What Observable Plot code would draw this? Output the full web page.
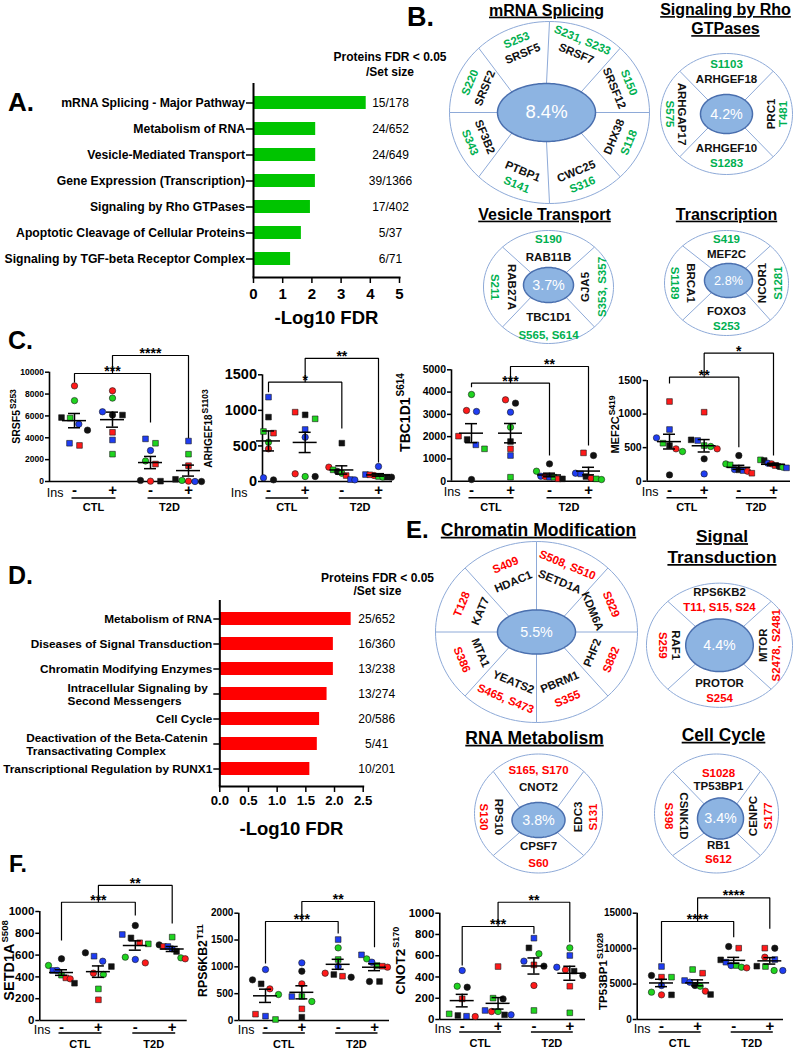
<!DOCTYPE html>
<html><head><meta charset="utf-8">
<script src="https://cdn.jsdelivr.net/npm/d3@7"></script>
<script src="https://cdn.jsdelivr.net/npm/@observablehq/plot@0.6"></script>
<style>
body{margin:0;background:#fff;}
#fig{position:relative;width:798px;height:1050px;overflow:hidden;background:#fff;font-family:"Liberation Sans",Arial,sans-serif;}
#fig > .p{position:absolute;}
.letter{position:absolute;font-weight:bold;line-height:1;white-space:nowrap;}
</style></head><body><div id="fig"></div>
<script>
// ---------------- DATA ----------------
const aPathways = ["mRNA Splicing - Major Pathway","Metabolism of RNA","Vesicle-Mediated Transport","Gene Expression (Transcription)","Signaling by Rho GTPases","Apoptotic Cleavage of Cellular Proteins","Signaling by TGF-beta Receptor Complex"];
const aLogFDR = [3.86, 2.13, 2.13, 2.12, 1.95, 1.64, 1.27];
const aCounts = ["15/178","24/652","24/649","39/1366","17/402","5/37","6/71"];

const dPathways = ["Metabolism of RNA","Diseases of Signal Transduction","Chromatin Modifying Enzymes","Intracellular Signaling by\nSecond Messengers","Cell Cycle","Deactivation of the Beta-Catenin\nTransactivating Complex","Transcriptional Regulation by RUNX1"];
const dLogFDR = [2.29, 1.98, 1.98, 1.87, 1.74, 1.70, 1.57];
const dCounts = ["25/652","16/360","13/238","13/274","20/586","5/41","10/201"];
const countHeader = "Proteins FDR < 0.05\n/Set size";
const xLabel = "-Log10 FDR";

const insTicks = ["-","+","-","+"];
const conditions = ["CTL","T2D"];
// subject keys: colour letter (R,G,B,K) + marker (c = circle, s = square)
const srsf5Keys = [["Rc","Gc","Gs","Bc","Kc","Ks","Rs","Bs"],["Rc","Gc","Kc","Ks","Bc","Rs","Bs","Gs"],["Gc","Gs","Bc","Bs","Rs","Rc","Kc","Ks"],["Bs","Gs","Rs","Rc","Bc","Ks","Gc","Kc"]];
const srsf5Vals = [[8750,7400,5800,5250,4700,5850,3300,3500],[8300,7630,6080,6080,6380,4500,3800,2500],[1880,3500,2830,3900,1600,30,100,30],[3700,2500,1450,30,0,200,100,0]];
const arhgef18Keys = [["Bs","Ks","Gs","Rs","Gc","Rc","Kc","Bc"],["Rs","Gs","Ks","Bs","Bc","Gc","Rc","Kc"],["Ks","Kc","Gs","Rs","Rc","Gc","Bc","Bs"],["Bc","Bs","Rs","Rc","Gs","Gc","Ks","Kc"]];
const arhgef18Vals = [[1186,905,703,680,553,459,23,52],[975,881,937,731,623,70,108,70],[539,141,164,84,202,117,23,28],[211,98,94,84,70,61,61,61]];
const tbc1d1Keys = [["Gc","Bc","Rc","Ks","Rs","Gs","Bs","Kc"],["Kc","Rc","Bc","Gc","Ks","Rs","Bs","Gs"],["Kc","Gc","Rs","Rc","Bs","Bc","Ks","Gs"],["Kc","Rs","Bs","Bc","Gs","Rc","Ks","Gc"]];
const tbc1d1Vals = [[3892,3129,3174,1871,2021,1452,1632,75],[3503,3653,3099,2425,1781,1452,1153,180],[778,449,105,210,180,225,105,180],[1153,1272,329,359,105,135,210,75]];
const mef2cKeys = [["Rs","Bs","Bc","Gs","Ks","Rc","Gc","Kc"],["Rs","Ks","Bs","Gs","Gc","Rc","Kc","Bc"],["Kc","Gc","Gs","Bc","Rc","Ks","Bs","Rs"],["Gs","Ks","Kc","Gc","Rc","Bc","Bs","Rs"]];
const mef2cVals = [[1187,770,646,566,531,482,442,94],[1028,616,606,531,517,482,333,109],[382,258,243,174,149,169,159,119],[318,308,219,209,258,268,199,233]];
const setd1aKeys = [["Kc","Gc","Bs","Bc","Rs","Rc","Gs","Ks"],["Kc","Bc","Bs","Ks","Gc","Rc","Gs","Rs"],["Kc","Bs","Ks","Rs","Gs","Gc","Rc","Bc"],["Gs","Kc","Rs","Bs","Ks","Gc","Rc","Bc"]];
const setd1aVals = [[566,505,459,459,391,382,416,342],[621,544,590,495,422,434,290,190],[871,789,758,713,703,581,529,560],[765,694,679,679,633,575,566,657]];
const rps6kb2Keys = [["Bc","Kc","Ks","Rc","Gc","Rs","Bs","Gs"],["Bc","Kc","Rc","Bs","Gs","Gc","Rs","Ks"],["Bs","Gc","Gs","Bc","Rc","Kc","Rs","Ks"],["Bs","Gc","Bc","Gs","Rs","Rc","Kc","Ks"]];
const rps6kb2Vals = [[950,758,683,590,484,118,81,19],[1075,919,683,447,447,354,217,62],[1509,1354,1137,1006,882,807,826,857],[1224,1149,1087,1025,1012,994,727,727]];
const cnot2Keys = [["Bc","Gc","Kc","Rs","Gs","Rc","Bs","Ks"],["Rs","Kc","Gs","Bs","Rc","Gc","Ks","Bc"],["Bs","Ks","Gc","Bc","Kc","Rs","Rc","Gs"],["Gc","Bs","Bc","Rc","Ks","Kc","Rs","Gs"]];
const cnot2Vals = [[461,313,304,194,53,28,31,38],[498,194,201,85,75,75,44,44],[765,674,618,549,502,514,320,85],[674,602,492,467,455,414,313,63]];
const tp53bp1Keys = [["Bs","Kc","Rs","Gs","Bc","Gc","Rc","Ks"],["Gs","Rs","Bs","Bc","Gc","Ks","Kc","Rc"],["Kc","Rs","Ks","Bs","Bc","Rc","Gc","Gs"],["Rs","Kc","Rc","Bs","Ks","Gs","Gc","Bc"]];
const tp53bp1Vals = [[7476,6207,5972,5972,4796,3856,3480,3480],[7053,6536,5501,5266,4702,3527,4796,3997],[10297,10062,8417,8088,7617,7288,7382,7617],[10062,10062,8793,8464,7523,7476,6912,6912]];
// significance brackets: [group from, group to, top value, left leg end, right leg end, label]
const srsf5Sig = [[1,3,9880,9060,5400,"***"],[2,4,11530,9880,3930,"****"]];
const arhgef18Sig = [[1,3,1397,1256,746,"*"],[2,4,1731,1397,267,"**"]];
const tbc1d1Sig = [[1,3,4399,4219,1153,"***"],[2,4,5148,4399,1602,"**"]];
const mef2cSig = [[1,3,1549,1455,506,"**"],[2,4,1907,1549,383,"*"]];
const setd1aSig = [[1,3,1085,734,963,"***"],[2,4,1239,1085,890,"**"]];
const rps6kb2Sig = [[1,3,1845,1062,1622,"***"],[2,4,2218,1845,1366,"**"]];
const cnot2Sig = [[1,3,875,508,806,"***"],[2,4,1103,875,727,"**"]];
const tp53bp1Sig = [[1,3,13828,8085,11613,"****"],[2,4,17172,13828,12798,"****"]];

// donut diagrams
const splGenes = ["SRSF5","SRSF7","SRSF12","DHX38","CWC25","PTBP1","SF3B2","SRSF2"];
const splSites = ["S253","S231, S233","S150","S118","S316","S141","S343","S220"];
const rhoGenes = ["ARHGEF18","PRC1","ARHGEF10","ARHGAP17"];
const rhoSites = ["S1103","T481","S1283","S575"];
const vesGenes = ["RAB11B","GJA5","TBC1D1","RAB27A"];
const vesSites = ["S190","S353, S357","S565, S614","S211"];
const txGenes = ["MEF2C","NCOR1","FOXO3","BRCA1"];
const txSites = ["S419","S1281","S253","S1189"];
const chrGenes = ["HDAC1","SETD1A","KDM6A","PHF2","PBRM1","YEATS2","MTA1","KAT7"];
const chrSites = ["S409","S508, S510","S829","S882","S355","S465, S473","S386","T128"];
const sigGenes = ["RPS6KB2","MTOR","PROTOR","RAF1"];
const sigSites = ["T11, S15, S24","S2478, S2481","S254","S259"];
const rnaGenes = ["CNOT2","EDC3","CPSF7","RPS10"];
const rnaSites = ["S165, S170","S131","S60","S130"];
const ccGenes = ["TP53BP1","CENPC","RB1","CSNK1D"];
const ccSites = ["S1028","S177","S612","S398"];

// ---------------- RENDER ----------------
const FONT = '"Liberation Sans", Arial, Helvetica, sans-serif';
const baseStyle = {fontFamily: FONT, fontSize: "10px", background: "transparent", overflow: "visible", color: "#000"};
const fig = document.getElementById("fig");
const NS = "http://www.w3.org/2000/svg";
function place(node, left, top) {
  const d = document.createElement("div"); d.className = "p";
  d.style.left = left + "px"; d.style.top = top + "px";
  d.appendChild(node); fig.appendChild(d);
}
function letter(txt, x, baseline, size) {
  const d = document.createElement("div"); d.className = "letter";
  d.style.left = x + "px"; d.style.top = (baseline - 0.8465 * size) + "px"; d.style.fontSize = size + "px";
  d.textContent = txt; fig.appendChild(d);
}
const ctx = document.createElement("canvas").getContext("2d");

// ----- Panel A -----
{
  const rows = aPathways.map((p, i) => ({p, v: aLogFDR[i], c: aCounts[i]}));
  const svg = Plot.plot({
    width: 470, height: 300, marginLeft: 253, marginRight: 71, marginTop: 43, marginBottom: 63,
    style: baseStyle,
    x: {domain: [0, 5]},
    y: {domain: aPathways, paddingInner: 0.5, paddingOuter: 0.41},
    marks: [
      Plot.barX(rows, {y: "p", x: "v", fill: "#00c400"}),
      Plot.ruleX([0], {strokeWidth: 2}),
      Plot.frame({anchor: "bottom", strokeWidth: 2}),
      Plot.axisX({ticks: [0,1,2,3,4,5], label: null, tickSize: 6, tickPadding: 5, tickFormat: d3.format("d"), fontSize: 15, fontWeight: "bold", strokeWidth: 1.5}),
      Plot.axisY({label: null, tickSize: 7, tickPadding: 1.5, fontSize: 12.2, fontWeight: "bold", strokeWidth: 1.5}),
      Plot.text(rows, {y: "p", text: "c", frameAnchor: "right", textAnchor: "middle", dx: -9, fontSize: 12}),
      Plot.text([countHeader], {text: d => d, frameAnchor: "top-right", textAnchor: "middle", lineAnchor: "middle", dx: -9.5, dy: -19.7, lineHeight: 1.22, fontSize: 12, fontWeight: "bold"}),
      Plot.text([xLabel], {text: d => d, frameAnchor: "bottom", lineAnchor: "middle", dy: 41, fontSize: 18.5, fontWeight: "bold"})
    ]
  });
  place(svg, 0, 40);
}

// ----- Panel D -----
{
  const rows = dPathways.map((p, i) => ({p, v: dLogFDR[i], c: dCounts[i]}));
  const fs = 11.8;
  ctx.font = `bold ${fs}px ${FONT}`;
  const singles = rows.filter(r => !r.p.includes("\n"));
  const multis = rows.filter(r => r.p.includes("\n"));
  const multiMarks = multis.map(r => {
    const w = Math.max(...r.p.split("\n").map(s => ctx.measureText(s).width));
    return Plot.text([r], {x: 0, y: "p", text: "p", textAnchor: "start", dx: -12 - w, lineHeight: 1.13, fontSize: fs, fontWeight: "bold"});
  });
  const svg = Plot.plot({
    width: 460, height: 290, marginLeft: 219.3, marginRight: 97.3, marginTop: 40, marginBottom: 64,
    style: baseStyle,
    x: {domain: [0, 2.5]},
    y: {domain: dPathways, paddingInner: 0.49, paddingOuter: 0.43},
    marks: [
      Plot.barX(rows, {y: "p", x: "v", fill: "#ff0000"}),
      Plot.ruleX([0], {strokeWidth: 2}),
      Plot.frame({anchor: "bottom", strokeWidth: 2}),
      Plot.axisX({ticks: [0,0.5,1,1.5,2,2.5], label: null, tickSize: 6, tickPadding: 3, tickFormat: d3.format(".1f"), fontSize: 13.2, fontWeight: "bold", strokeWidth: 1.5}),
      Plot.axisY({label: null, tickSize: 6, tickFormat: () => "", strokeWidth: 1.5}),
      Plot.text(singles, {x: 0, y: "p", text: "p", textAnchor: "end", dx: -7.5, fontSize: fs, fontWeight: "bold"}),
      ...multiMarks,
      Plot.text(rows, {y: "p", text: "c", frameAnchor: "right", textAnchor: "middle", dx: 13.5, fontSize: 12}),
      Plot.text([countHeader], {text: d => d, frameAnchor: "top-right", textAnchor: "middle", lineAnchor: "middle", dx: 14.3, dy: -16.6, lineHeight: 1.11, fontSize: 12, fontWeight: "bold"}),
      Plot.text([xLabel], {text: d => d, frameAnchor: "bottom", lineAnchor: "middle", dy: 43, fontSize: 18.5, fontWeight: "bold"})
    ]
  });
  place(svg, 0, 560);
}

// ----- scatter panels (C, F) -----
const subjColor = {domain: ["R","G","B","K"], range: ["#ff1a1a","#1fd41f","#1f3df2","#111111"]};
const symbolScale = {domain: ["c","s"], range: ["circle","square"]};
function dodge(points, pyu, sp) {
  const out = [];
  for (let g = 1; g <= 4; g++) {
    const pts = points.filter(p => p.g === g).sort((a, b) => b.v - a.v);
    const rows = [];
    for (const p of pts) {
      const last = rows.length ? rows[rows.length - 1] : null;
      if (last && (last[last.length - 1].v - p.v) * pyu < 6.5) last.push(p); else rows.push([p]);
    }
    for (const row of rows) {
      const k = row.length;
      const s = k > 1 ? Math.min(10, 26 / (k - 1)) : 0;
      row.forEach((p, i) => out.push({...p, xo: g + ((i - (k - 1) / 2) * s) / sp}));
    }
  }
  return out;
}
function fixLabels(svg, supSize, baseSize) {
  svg.querySelectorAll("text").forEach(t => {
    const s = t.textContent;
    if (s.includes("^")) {
      const [base, sup] = s.split("^");
      t.textContent = "";
      const a = document.createElementNS(NS, "tspan"); a.textContent = base;
      const b = document.createElementNS(NS, "tspan"); b.textContent = sup;
      b.setAttribute("font-size", supSize); b.setAttribute("dy", -(0.4 * baseSize)); b.setAttribute("dx", 1);
      t.appendChild(a); t.appendChild(b);
    }
  });
}
function scatter(c) {
  const sp = (c.g4 - c.g1) / 3;
  const x0 = 1 - (c.g1 - c.axis) / sp;
  const x1 = 4 + (c.xRight - c.g4) / sp;
  const mL = c.axis - c.left, mR = c.left + c.width - c.xRight;
  const mT = c.yTop - c.top, mB = c.top + c.height - c.y0;
  const pyu = (c.y0 - c.yTop) / c.yMax;
  const pts = [];
  c.keys.forEach((row, gi) => row.forEach((k, j) => pts.push({g: gi + 1, subj: k[0], shape: k[1], v: c.vals[gi][j]})));
  const placed = dodge(pts, pyu, sp);
  const stats = [1,2,3,4].map(g => {
    const v = c.vals[g - 1]; const m = d3.mean(v); const s = d3.deviation(v) / Math.sqrt(v.length);
    return {g, m, lo: m - s, hi: m + s};
  });
  const hw = 12 / sp, cw = 6 / sp, ext = 3 / sp;
  const brPts = [];
  c.sig.forEach((b, i) => { brPts.push({id: i, x: b[0], y: b[3]}, {id: i, x: b[0], y: b[2]}, {id: i, x: b[1], y: b[2]}, {id: i, x: b[1], y: b[4]}); });
  const frameMid = (c.yTop + c.y0) / 2;
  const underY = -c.underDy / pyu;
  const svg = Plot.plot({
    width: c.width, height: c.height, marginLeft: mL, marginRight: mR, marginTop: mT, marginBottom: mB,
    style: baseStyle,
    x: {domain: [x0, x1], axis: null},
    y: {domain: [0, c.yMax]},
    color: subjColor, symbol: symbolScale,
    marks: [
      Plot.line(brPts, {x: "x", y: "y", z: "id", stroke: "#000", strokeWidth: 1.2, strokeLinecap: "butt", strokeLinejoin: "miter"}),
      Plot.text(c.sig, {x: b => (b[0] + b[1]) / 2, y: b => b[2], text: b => b[5], dy: -2, fontWeight: "bold", fontSize: 14}),
      Plot.ruleY([0], {strokeWidth: 1.6}),
      Plot.ruleX([x0], {strokeWidth: 1.6}),
      Plot.axisY({ticks: c.ticks, label: null, tickSize: 4, tickPadding: 1.5, tickFormat: d3.format("d"), fontSize: c.tickFont, fontWeight: "bold", strokeWidth: 1.5}),
      Plot.dot(placed, {x: "xo", y: "v", fill: "subj", symbol: "shape", r: 3.2, stroke: "#1a1a1a", strokeWidth: 0.6}),
      Plot.ruleY(stats, {y: "m", x1: d => d.g - hw, x2: d => d.g + hw, strokeWidth: 1.5}),
      Plot.ruleX(stats, {x: "g", y1: "lo", y2: "hi", strokeWidth: 1.5}),
      Plot.ruleY(stats, {y: "lo", x1: d => d.g - cw, x2: d => d.g + cw, strokeWidth: 1.5}),
      Plot.ruleY(stats, {y: "hi", x1: d => d.g - cw, x2: d => d.g + cw, strokeWidth: 1.5}),
      Plot.text(insTicks, {x: (d, i) => i + 1, y: 0, text: d => d, dy: c.tickDy, fontSize: 15, fontWeight: "bold"}),
      Plot.text(["Ins"], {x: 1, y: 0, text: d => d, dx: c.insDx || -11, dy: c.tickDy + 2, textAnchor: "end", fontSize: 12.5}),
      Plot.link([[1,2],[3,4]], {x1: d => d[0] - ext, x2: d => d[1] + ext, y1: underY, y2: underY, strokeWidth: 1.5}),
      Plot.text(conditions, {x: (d, i) => 1.5 + 2 * i, y: 0, text: d => d, dy: c.groupDy, fontSize: 11, fontWeight: "bold"}),
      Plot.text([c.label], {text: d => d, frameAnchor: "left", textAnchor: "middle", lineAnchor: "middle", dx: c.labelX - c.axis, dy: c.labelY - frameMid, rotate: -90, fontSize: c.labelSize, fontWeight: "bold"})
    ]
  });
  fixLabels(svg, c.supSize, c.labelSize);
  place(svg, c.left, c.top);
}
const cRow = {top: 335, height: 185, tickDy: 9, underDy: 16.5, groupDy: 26};
const fRow = {top: 870, height: 180, tickDy: 7, underDy: 12.5, groupDy: 24};
scatter({...cRow, left: 0, width: 206, axis: 49, g1: 74, g4: 188, xRight: 200, y0: 481, yTop: 371.7, yMax: 10000, ticks: [0,2000,4000,6000,8000,10000], tickFont: 8.5, keys: srsf5Keys, vals: srsf5Vals, sig: srsf5Sig, label: "SRSF5^S253", labelX: 16, labelY: 416, labelSize: 10.5, supSize: 8.5});
scatter({...cRow, left: 195, width: 205, axis: 262, g1: 268, g4: 378, xRight: 392, y0: 481, yTop: 374.3, yMax: 1500, ticks: [0,500,1000,1500], tickFont: 14.5, insDx: -21, keys: arhgef18Keys, vals: arhgef18Vals, sig: arhgef18Sig, label: "ARHGEF18^S1103", labelX: 208, labelY: 428, labelSize: 10, supSize: 8.5});
scatter({...cRow, left: 395, width: 212, axis: 451, g1: 471, g4: 588, xRight: 601.7, y0: 480.7, yTop: 369.3, yMax: 5000, ticks: [0,1000,2000,3000,4000,5000], tickFont: 10.5, keys: tbc1d1Keys, vals: tbc1d1Vals, sig: tbc1d1Sig, label: "TBC1D1^S614", labelX: 405, labelY: 412, labelSize: 14, supSize: 10});
scatter({...cRow, left: 600, width: 198, axis: 646.7, g1: 669, g4: 773, xRight: 790, y0: 480.7, yTop: 380, yMax: 1500, ticks: [0,500,1000,1500], tickFont: 10.5, keys: mef2cKeys, vals: mef2cVals, sig: mef2cSig, label: "MEF2C^S419", labelX: 615, labelY: 424, labelSize: 11, supSize: 8.5});
scatter({...fRow, left: 0, width: 195, axis: 39.3, g1: 61, g4: 171.7, xRight: 186.7, y0: 1020, yTop: 911, yMax: 1000, ticks: [0,200,400,600,800,1000], tickFont: 11.5, keys: setd1aKeys, vals: setd1aVals, sig: setd1aSig, label: "SETD1A^S508", labelX: 9, labelY: 960, labelSize: 14.5, supSize: 9.5});
scatter({...fRow, left: 195, width: 200, axis: 238.3, g1: 265, g4: 374, xRight: 389, y0: 1020, yTop: 912.7, yMax: 2000, ticks: [0,500,1000,1500,2000], tickFont: 10, keys: rps6kb2Keys, vals: rps6kb2Vals, sig: rps6kb2Sig, label: "RPS6KB2^T11", labelX: 203, labelY: 960, labelSize: 12.3, supSize: 9});
scatter({...fRow, left: 395, width: 195, axis: 439.3, g1: 461.7, g4: 569.3, xRight: 585, y0: 1019, yTop: 912.7, yMax: 1000, ticks: [0,200,400,600,800,1000], tickFont: 11.5, keys: cnot2Keys, vals: cnot2Vals, sig: cnot2Sig, label: "CNOT2^S170", labelX: 400, labelY: 960, labelSize: 13.5, supSize: 9});
scatter({...fRow, left: 595, width: 203, axis: 636.7, g1: 661, g4: 769.3, xRight: 783, y0: 1019, yTop: 912.7, yMax: 15000, ticks: [0,5000,10000,15000], tickFont: 10, keys: tp53bp1Keys, vals: tp53bp1Vals, sig: tp53bp1Sig, label: "TP53BP1^S1028", labelX: 603, labelY: 971, labelSize: 11.5, supSize: 9});

// ----- donut diagrams (B, E) -----
function donut(c) {
  const padX = 6, padTop = c.padTop, padBottom = 6;
  const W = 2 * c.rx + 2 * padX, H = 2 * c.ry + padTop + padBottom;
  const left = c.cx - c.rx - padX, top = c.cy - c.ry - padTop;
  const ts = d3.range(0, 360, 3).map(a => a * Math.PI / 180);
  const ox = (c.odx || 0) / c.rx, oy = -(c.ody || 0) / c.ry, ix = (c.idx || 0) / c.rx, iy = -(c.idy || 0) / c.ry;
  const ka = c.irx / c.rx, kb = c.iry / c.ry;
  const outer = ts.map(t => ({x: ox + Math.cos(t), y: oy + Math.sin(t)}));
  const inner = ts.map(t => ({x: ix + ka * Math.cos(t), y: iy + kb * Math.sin(t)}));
  const n = c.genes.length;
  const spokeAngles = n === 8 ? d3.range(0, 360, 45) : [45, 135, 225, 315];
  const spokes = spokeAngles.map(a => { const t = a * Math.PI / 180; return {x1: ix + ka * Math.cos(t), y1: iy + kb * Math.sin(t), x2: ox + Math.cos(t), y2: oy + Math.sin(t)}; });
  const genes = [], sites = [];
  c.genes.forEach((g, i) => {
    const th = n === 8 ? 112.5 - 45 * i : [90, 0, -90, 180][i];
    const horiz = n === 4 && i % 2 === 1;
    let gr = Array.isArray(c.gr) ? c.gr[horiz ? 1 : 0] : c.gr;
    let sr = Array.isArray(c.sr) ? c.sr[horiz ? 1 : 0] : c.sr;
    if (c.swap && c.swap[i]) [gr, sr] = [sr, gr];
    const t = th * Math.PI / 180;
    const a = ((th % 360) + 360) % 360;
    const rot = (a > 0 && a < 180) ? 90 - th : -90 - th;
    genes.push({x: gr * Math.cos(t), y: gr * Math.sin(t), text: g, rot});
    sites.push({x: sr * Math.cos(t), y: sr * Math.sin(t), text: c.sites[i], rot});
  });
  const svg = Plot.plot({
    width: W, height: H, marginLeft: padX, marginRight: padX, marginTop: padTop, marginBottom: padBottom,
    style: baseStyle,
    x: {domain: [-1, 1], axis: null}, y: {domain: [-1, 1], axis: null},
    marks: [
      Plot.line(outer, {x: "x", y: "y", curve: "linear-closed", fill: "white", stroke: "#8eaad8", strokeWidth: 1}),
      Plot.link(spokes, {x1: "x1", y1: "y1", x2: "x2", y2: "y2", stroke: "#8eaad8", strokeWidth: 1}),
      Plot.line(inner, {x: "x", y: "y", curve: "linear-closed", fill: "#8db4e2", stroke: "#4a6fae", strokeWidth: 1.5}),
      Plot.text([c.pct], {x: ix, y: iy, text: d => d, fill: "white", fontSize: c.pctSize}),
      Plot.text(genes, {x: "x", y: "y", text: "text", rotate: "rot", fill: "#111", fontWeight: "bold", fontSize: 11.5}),
      Plot.text(sites, {x: "x", y: "y", text: "text", rotate: "rot", fill: c.siteColor, fontWeight: "bold", fontSize: 11.5}),
      Plot.text([c.title], {text: d => d, frameAnchor: "top", textAnchor: "middle", lineAnchor: "middle", dx: c.titleX - c.cx, dy: c.titleY - (c.cy - c.ry), fontSize: c.titleSize, fontWeight: "bold", lineHeight: c.lh || 1.2})
    ]
  });
  const tt = c.title.replace(/\n/g, "");
  svg.querySelectorAll("text").forEach(t => { if (t.textContent === tt) t.style.textDecoration = "underline"; });
  place(svg, left, top);
}
const GREEN = "#00b050", RED = "#ff0000";
donut({cx: 549, cy: 112, rx: 100, ry: 91, irx: 49, iry: 29, idx: -3, genes: splGenes, sites: splSites, gr: 0.70, sr: 0.86, pct: "8.4%", pctSize: 18.5, title: "mRNA Splicing", titleX: 546, titleY: 9, titleSize: 16, padTop: 25, siteColor: GREEN});
donut({cx: 726, cy: 113, rx: 66, ry: 60.5, irx: 26, iry: 19.5, genes: rhoGenes, sites: rhoSites, gr: [0.57, 0.68], sr: [0.82, 0.86], pct: "4.2%", pctSize: 14.3, title: "Signaling by Rho\nGTPases", titleX: 725, titleY: 17.5, lh: 1.19, titleSize: 16, padTop: 55, siteColor: GREEN});
donut({cx: 548, cy: 286.5, rx: 65, ry: 56.5, irx: 25, iry: 17.5, idy: -2, genes: vesGenes, sites: vesSites, gr: [0.53, 0.56], sr: [0.85, 0.83], pct: "3.7%", pctSize: 14.3, title: "Vesicle Transport", titleX: 544, titleY: 213, titleSize: 16, padTop: 25, siteColor: GREEN});
donut({cx: 726, cy: 282.5, rx: 62, ry: 52.5, irx: 24, iry: 17, idx: 2, idy: -2.5, genes: txGenes, sites: txSites, gr: [0.54, 0.58], sr: [0.83, 0.83], pct: "2.8%", pctSize: 12.7, title: "Transcription", titleX: 726, titleY: 213, titleSize: 16, padTop: 25, siteColor: GREEN});
donut({cx: 536, cy: 631, rx: 101, ry: 90.5, irx: 39, iry: 22, genes: chrGenes, sites: chrSites, gr: 0.60, sr: 0.80, pct: "5.5%", pctSize: 14.3, title: "Chromatin Modification", titleX: 538, titleY: 528, titleSize: 17.5, padTop: 25, siteColor: RED});
donut({cx: 719.5, cy: 645.5, rx: 73.5, ry: 62.5, irx: 34, iry: 26.5, genes: sigGenes, sites: sigSites, swap: [true, false, false, false], gr: [0.61, 0.60], sr: [0.85, 0.78], pct: "4.4%", pctSize: 14.3, title: "Signal\nTransduction", titleX: 722, titleY: 545.5, lh: 1.2, titleSize: 17.5, padTop: 55, siteColor: RED});
donut({cx: 538, cy: 816, rx: 64, ry: 59.5, ody: -3.5, irx: 26.5, iry: 17.5, idy: 3, genes: rnaGenes, sites: rnaSites, gr: [0.50, 0.62], sr: [0.78, 0.86], pct: "3.8%", pctSize: 14.3, title: "RNA Metabolism", titleX: 534, titleY: 736, titleSize: 17.5, padTop: 25, siteColor: RED});
donut({cx: 718, cy: 815, rx: 62, ry: 59.5, odx: -2, ody: -2.5, irx: 23, iry: 20.5, idx: 2, idy: 2.5, genes: ccGenes, sites: ccSites, gr: [0.50, 0.56], sr: [0.72, 0.80], pct: "3.4%", pctSize: 14.3, title: "Cell Cycle", titleX: 723, titleY: 733, titleSize: 17.5, padTop: 25, siteColor: RED});

// panel letters
letter("A.", 8, 111, 26);
letter("B.", 407, 27, 27);
letter("C.", 8, 349, 25);
letter("D.", 8, 584, 25);
letter("E.", 406, 538, 24);
letter("F.", 9, 872, 23);
</script></body></html>
